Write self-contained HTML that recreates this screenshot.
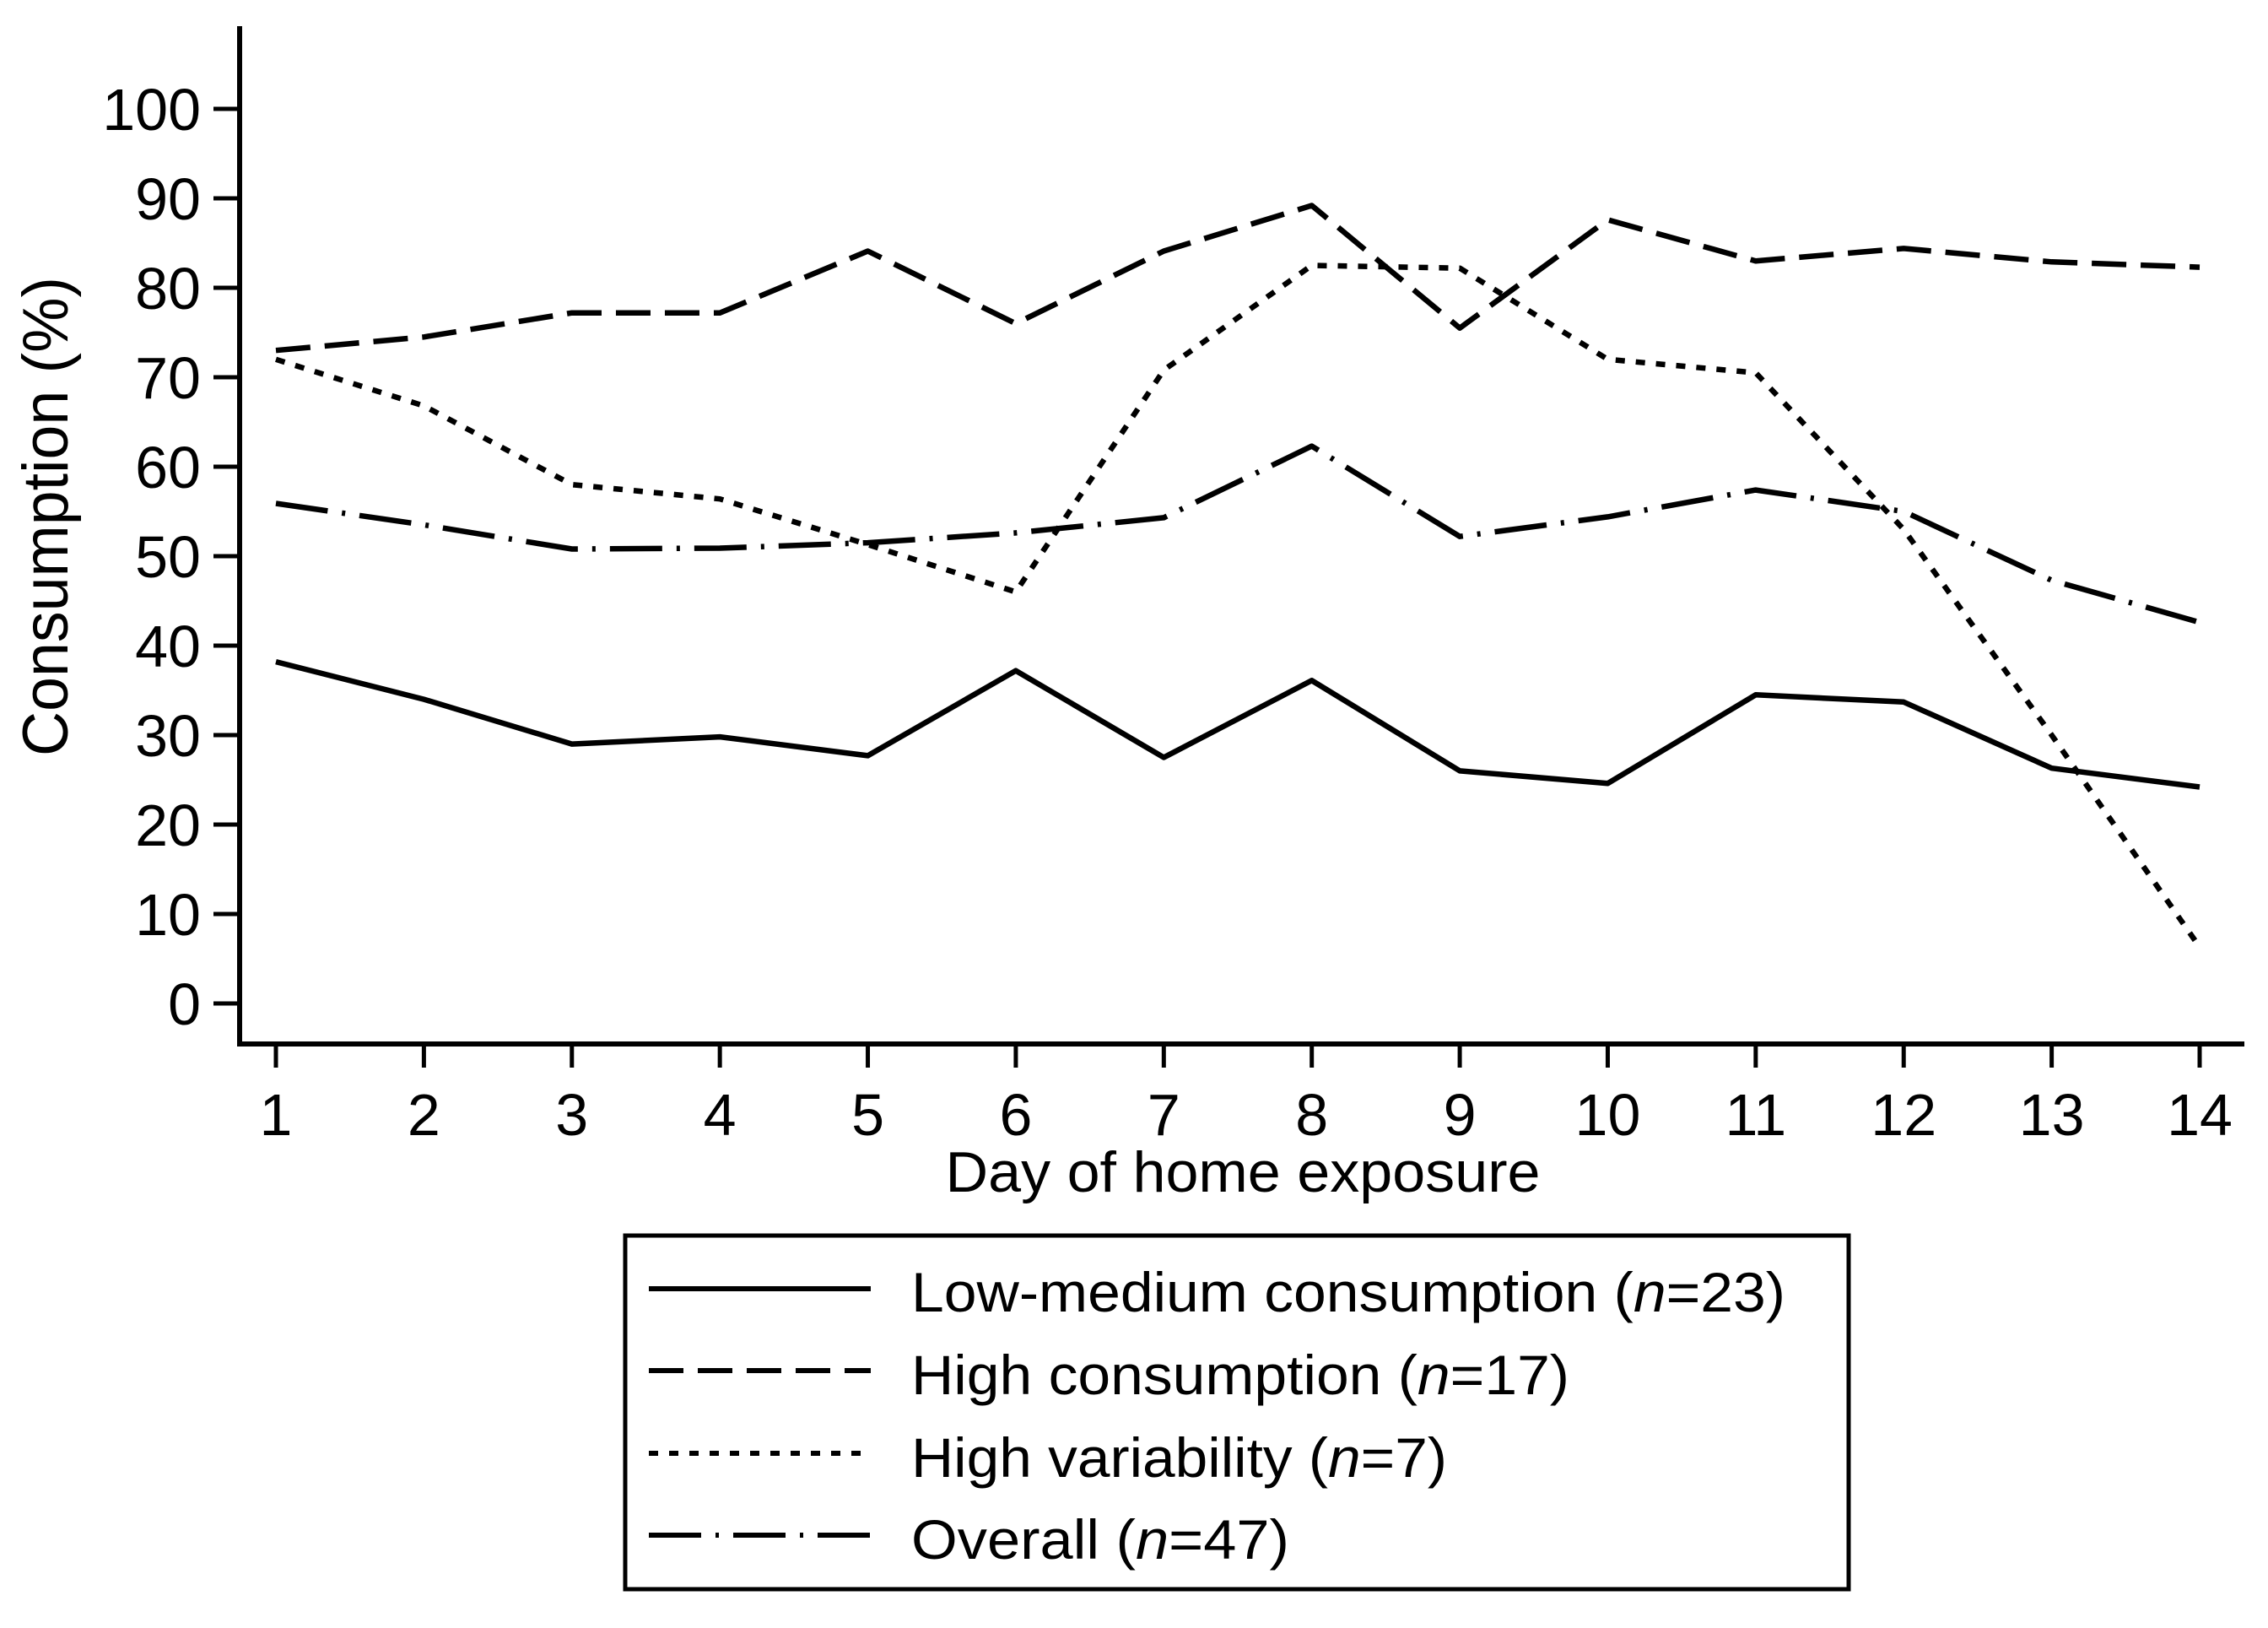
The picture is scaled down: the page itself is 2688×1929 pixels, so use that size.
<!DOCTYPE html>
<html><head><meta charset="utf-8"><style>
html,body{margin:0;padding:0;background:#fff}
svg text{font-family:"Liberation Sans",sans-serif;fill:#000}
</style></head><body>
<svg id="chart" width="2688" height="1924" viewBox="0 0 2688 1924" xmlns="http://www.w3.org/2000/svg">
<rect width="2688" height="1924" fill="#fff"/>
<g id="axes"></g>
<g id="series"></g>
<text x="0" y="0" font-size="76" text-anchor="middle" textLength="568" lengthAdjust="spacingAndGlyphs" transform="translate(80,612) rotate(-90)">Consumption (%)</text>
<text x="1473" y="1412" font-size="68" text-anchor="middle" textLength="705" lengthAdjust="spacingAndGlyphs">Day of home exposure</text>
<g>
<rect x="741" y="1464" width="1450" height="419" fill="none" stroke="#000" stroke-width="5"/>
<g>
<line x1="769" y1="1527" x2="1032" y2="1527" stroke="#000" stroke-width="6"/>
<text x="1080" y="1554" font-size="66" textLength="1036" lengthAdjust="spacingAndGlyphs">Low-medium consumption (<tspan font-style="italic">n</tspan>=23)</text></g>
<g>
<line x1="769" y1="1624" x2="1032" y2="1624" stroke="#000" stroke-width="6" stroke-dasharray="41,17"/>
<text x="1080" y="1652" font-size="66" textLength="780" lengthAdjust="spacingAndGlyphs">High consumption (<tspan font-style="italic">n</tspan>=17)</text></g>
<g>
<line x1="769" y1="1722" x2="1032" y2="1722" stroke="#000" stroke-width="6" stroke-dasharray="11,13"/>
<text x="1080" y="1750" font-size="66" textLength="635" lengthAdjust="spacingAndGlyphs">High variability (<tspan font-style="italic">n</tspan>=7)</text></g>
<g>
<line x1="769" y1="1819" x2="1032" y2="1819" stroke="#000" stroke-width="6" stroke-dasharray="62,17,4,17"/>
<text x="1080" y="1847" font-size="66" textLength="448" lengthAdjust="spacingAndGlyphs">Overall (<tspan font-style="italic">n</tspan>=47)</text></g>
</g>
</svg>
<script>
const days = [1,2,3,4,5,6,7,8,9,10,11,12,13,14];
const lowMedium = [38.2,34,29,29.8,27.7,37.2,27.5,36.1,26,24.6,34.5,33.7,26.3,24.2];
const highConsumption = [73,74.5,77.2,77.2,84.1,76,84.1,89.2,75.5,87.6,83,84.4,82.9,82.3];
const highVariability = [72,66.8,58,56.4,51.3,46,70.8,82.5,82.2,72,70.5,53,30,6.3];
const overall = [55.9,53.5,50.8,50.9,51.5,52.6,54.3,62.3,52.2,54.4,57.4,55,47.3,42.6];
const yTicks = [0,10,20,30,40,50,60,70,80,90,100];

const NS = "http://www.w3.org/2000/svg";
function xScale(d){ return 327 + (d-1)*(2607-327)/13; }
function yScale(v){ return 1189 - v*(1189-129)/100; }
function mk(tag, attrs, parent){
  const el = document.createElementNS(NS, tag);
  for (const k in attrs) el.setAttribute(k, attrs[k]);
  parent.appendChild(el); return el;
}
const axes = document.getElementById('axes');
const yl = mk('line',{x1:284,y1:31,x2:284,y2:1237,stroke:'#000','stroke-width':6},axes);


const xl = mk('line',{x1:281,y1:1237,x2:2660,y2:1237,stroke:'#000','stroke-width':6},axes);


yTicks.forEach(v=>{
  const y = yScale(v);
  const t = mk('line',{x1:253,y1:y,x2:284,y2:y,stroke:'#000','stroke-width':5},axes);
  
  
  const l = mk('text',{x:238,y:y+25,'font-size':70,'text-anchor':'end'},axes);
  l.textContent = v;
  
  
});
days.forEach(d=>{
  const x = xScale(d);
  const t = mk('line',{x1:x,y1:1237,x2:x,y2:1265,stroke:'#000','stroke-width':5},axes);
  
  
  const l = mk('text',{x:x,y:1345,'font-size':70,'text-anchor':'middle'},axes);
  l.textContent = d;
  
  
});
const ser = document.getElementById('series');
function drawLine(vals, dash, name){
  const pts = vals.map((v,i)=>xScale(days[i]).toFixed(1)+','+yScale(v).toFixed(1)).join(' ');
  const p = mk('polyline',{points:pts,fill:'none',stroke:'#000','stroke-width':6.5,'stroke-linejoin':'round'},ser);
  if (dash) p.setAttribute('stroke-dasharray',dash);
  
  
}
drawLine(lowMedium, null, 'line-low-medium');
drawLine(highConsumption, '41,17', 'line-high-consumption');
drawLine(highVariability, '11,13', 'line-high-variability');
drawLine(overall, '62,17,4,17', 'line-overall');
</script>
</body></html>
